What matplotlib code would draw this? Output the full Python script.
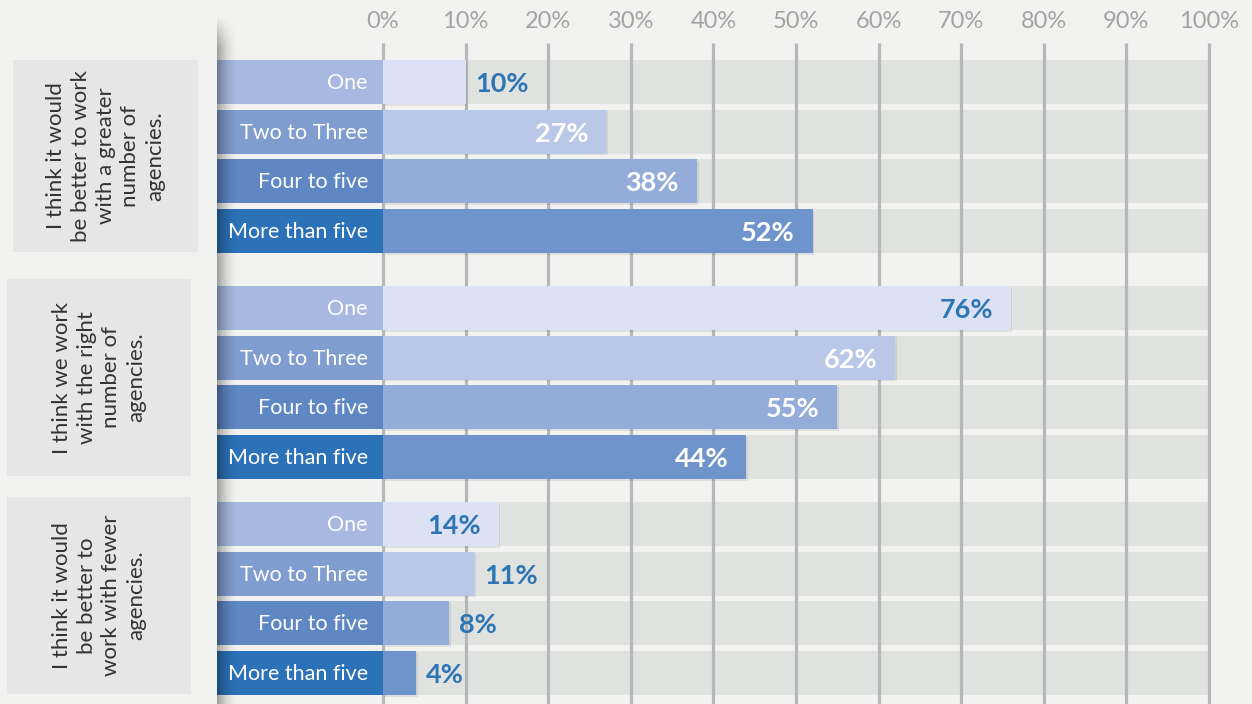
import matplotlib.pyplot as plt
import matplotlib.patches as mpatches
import numpy as np

plt.rcParams['font.family'] = ['Lato', 'DejaVu Sans']

groups = [
    "I think it would\nbe better to work\nwith a greater\nnumber of\nagencies.",
    "I think we work\nwith the right\nnumber of\nagencies.",
    "I think it would\nbe better to\nwork with fewer\nagencies.",
]
categories = ["One", "Two to Three", "Four to five", "More than five"]
values = [
    [10, 27, 38, 52],
    [76, 62, 55, 44],
    [14, 11, 8, 4],
]
ticks = [0, 10, 20, 30, 40, 50, 60, 70, 80, 90, 100]

cat_colors = ["#a8b8e0", "#809dd0", "#5e87c4", "#2c72b8"]
bar_colors = ["#dce2f3", "#b9c7e8", "#94acda", "#6f94cc"]
blue = "#2e75b6"
bg = "#f2f2f0"

# layout in pixels
W, H = 1252, 704
x0, x100 = 383, 1209
ppu = (x100 - x0) / 100.0


def X(px):
    return (px - x0) / ppu


group_top = [60, 286, 502]
pitch = 49.7
bar_h = 44
boxes = [(13, 198, 60, 252), (7, 191, 279, 476), (7, 191, 497, 694)]

fig = plt.figure(figsize=(W / 100, H / 100), dpi=100)
fig.patch.set_facecolor(bg)
ax = fig.add_axes([0, 0, 1, 1])
ax.set_facecolor(bg)
ax.set_xlim(X(0), X(W))
ax.set_ylim(H, 0)
ax.axis('off')

# grid lines
ax.vlines(ticks, 43, H, color="#b5b7ba", lw=2.3, zorder=1)
for t in ticks:
    ax.text(t, 21, f"{t}%", ha='center', va='center', fontsize=17, color="#a3a3a3")

for g, (label, vals) in enumerate(zip(groups, values)):
    ys = [group_top[g] + bar_h / 2 + i * pitch for i in range(len(categories))]
    # background track
    ax.barh(ys, 100, height=bar_h, left=0, color="#e0e2df", zorder=0.5)
    # category label boxes
    ax.barh(ys, X(x0) - X(217), height=bar_h, left=X(217), color=cat_colors, zorder=2)
    # subtle bar shadow
    ax.barh([y + 1.5 for y in ys], vals, height=bar_h, left=0.2, color="#000000",
            alpha=0.08, zorder=2.5)
    ax.barh(ys, vals, height=bar_h, left=0, color=bar_colors, zorder=3)
    for i, (cat, v, y) in enumerate(zip(categories, vals, ys)):
        ax.text(X(368), y + 1, cat, ha='right', va='center', fontsize=15.5,
                color="white", zorder=4)
        if v >= 14:
            c = blue if i == 0 else "white"
            ax.text(v - X(x0 + 18), y + 2, f"{v}%", ha='right', va='center',
                    fontsize=19.5, fontweight='bold', color=c, zorder=4)
        else:
            ax.text(v + X(x0 + 10), y + 2, f"{v}%", ha='left', va='center',
                    fontsize=19.5, fontweight='bold', color=blue, zorder=4)
    # group box
    bx0, bx1, by0, by1 = boxes[g]
    ax.add_patch(mpatches.Rectangle((X(bx0), by0), X(bx1) - X(bx0), by1 - by0,
                                    facecolor="#e6e6e6", edgecolor='none', zorder=2))
    ax.text((X(bx0) + X(bx1)) / 2, (by0 + by1) / 2, label, rotation=90,
            ha='center', va='center', multialignment='center', fontsize=16,
            linespacing=1.3, color="#333333", zorder=4)

# panel shadow on the left edge
sx = np.linspace(0, 1, 40)
sy = np.linspace(0, 1, 200)
horiz = (1 - sx) ** 2
vert = np.clip((sy * (H - 15)) / 30, 0, 1)
alpha = 0.35 * vert[:, None] * horiz[None, :]
img = np.zeros((len(sy), len(sx), 4))
img[..., 3] = alpha
ax.imshow(img, extent=(X(217), X(240), H, 15), aspect='auto', zorder=3.5,
          interpolation='bilinear')
ax.set_xlim(X(0), X(W))
ax.set_ylim(H, 0)

fig.savefig("out.png", dpi=100, facecolor=bg)
